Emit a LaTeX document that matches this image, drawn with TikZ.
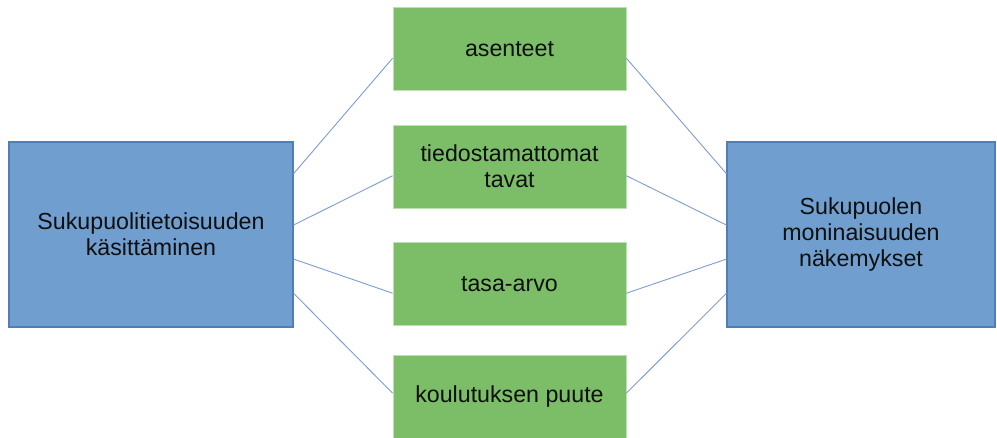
\documentclass[tikz,border=0pt]{standalone}
\usepackage{fontspec}
\setmainfont{Liberation Sans}
\usetikzlibrary{calc}
\definecolor{bluefill}{RGB}{112,158,207}
\definecolor{blueedge}{RGB}{80,126,186}
\definecolor{greenfill}{RGB}{124,189,104}
\definecolor{greenedge}{RGB}{190,225,180}
\definecolor{linkcol}{RGB}{128,160,210}
\definecolor{txt}{RGB}{15,15,15}
\begin{document}
\begin{tikzpicture}[x=0.75pt,y=-0.75pt,
  bigbox/.style={draw=blueedge,fill=bluefill,line width=0.9pt,inner sep=0pt,
    text=txt,align=center,font=\fontsize{17.4}{19.5}\selectfont},
  topicbox/.style={draw=greenedge,fill=greenfill,line width=0.6pt,inner sep=0pt,
    minimum width=233*0.75pt,minimum height=83*0.75pt,
    text=txt,align=center,font=\fontsize{17.4}{19.5}\selectfont},
  link/.style={draw=linkcol,line width=0.7pt}]
\useasboundingbox (0,0) rectangle (997,437);
\node[bigbox,minimum width=284*0.75pt,minimum height=185*0.75pt] (L) at (151,234.5)
  {Sukupuolitietoisuuden\\käsittäminen};
\node[bigbox,minimum width=268*0.75pt,minimum height=185*0.75pt] (R) at (861,234.5)
  {Sukupuolen\\moninaisuuden\\näkemykset};
\node[topicbox] (g1) at (509.5,49) {asenteet};
\node[topicbox] (g2) at (509.5,166.5) {tiedostamattomat\\tavat};
\node[topicbox] (g3) at (509.5,284) {tasa-arvo};
\node[topicbox] (g4) at (509.5,396.5) {koulutuksen puute};
% connectors
\draw[link] ($(L.north east)!0.173!(L.south east)$) -- ($(g1.north west)!0.61!(g1.south west)$);
\draw[link] ($(L.north east)!0.449!(L.south east)$) -- ($(g2.north west)!0.61!(g2.south west)$);
\draw[link] ($(L.north east)!0.632!(L.south east)$) -- ($(g3.north west)!0.61!(g3.south west)$);
\draw[link] ($(L.north east)!0.816!(L.south east)$) -- ($(g4.north west)!0.46!(g4.south west)$);
\draw[link] ($(R.north west)!0.173!(R.south west)$) -- ($(g1.north east)!0.61!(g1.south east)$);
\draw[link] ($(R.north west)!0.449!(R.south west)$) -- ($(g2.north east)!0.61!(g2.south east)$);
\draw[link] ($(R.north west)!0.632!(R.south west)$) -- ($(g3.north east)!0.61!(g3.south east)$);
\draw[link] ($(R.north west)!0.816!(R.south west)$) -- ($(g4.north east)!0.46!(g4.south east)$);
\end{tikzpicture}
\end{document}
